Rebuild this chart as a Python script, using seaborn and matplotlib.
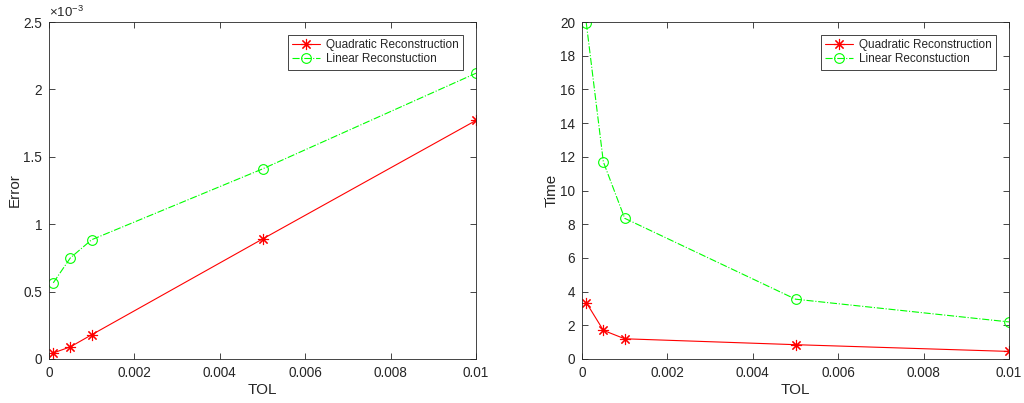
import matplotlib
matplotlib.use("Agg")
import matplotlib.pyplot as plt
import matplotlib.ticker as mticker
import seaborn as sns
import pandas as pd

# tolerance values on the x axis
tol = [0.0001, 0.0005, 0.001, 0.005, 0.01]

# reconstruction error
err_quadratic = [0.045e-3, 0.09e-3, 0.18e-3, 0.89e-3, 1.77e-3]
err_linear = [0.565e-3, 0.75e-3, 0.885e-3, 1.41e-3, 2.12e-3]

# run time
time_quadratic = [3.35, 1.7, 1.2, 0.85, 0.45]
time_linear = [19.95, 11.7, 8.35, 3.55, 2.2]

label_quadratic = "Quadratic Reconstruction"
label_linear = "Linear Reconstuction"

sns.set_theme(style="ticks")
plt.rcParams['font.family'] = ['Liberation Sans', 'DejaVu Sans']
plt.rcParams['mathtext.default'] = 'regular'
plt.rcParams['axes.edgecolor'] = '#262626'
plt.rcParams['axes.linewidth'] = 0.6
plt.rcParams['xtick.color'] = '#262626'
plt.rcParams['ytick.color'] = '#262626'
plt.rcParams['text.color'] = '#262626'
plt.rcParams['axes.labelcolor'] = '#262626'
plt.rcParams['xtick.labelsize'] = 9.8
plt.rcParams['ytick.labelsize'] = 9.8

RED = '#ff0000'
GREEN = '#00ff00'

fig = plt.figure(figsize=(10.24, 4.03), dpi=100)
ax1 = fig.add_axes([49 / 1024, 44 / 403, 427 / 1024, 337 / 403])
ax2 = fig.add_axes([582 / 1024, 44 / 403, 427 / 1024, 337 / 403])


def draw(ax, y_quad, y_lin, ylabel):
    df = pd.DataFrame({"tol": tol, "quad": y_quad, "lin": y_lin})
    sns.lineplot(data=df, x="tol", y="quad", ax=ax, color=RED, linewidth=0.8,
                 marker=(8, 2, 0), markersize=8, markerfacecolor=RED,
                 markeredgecolor=RED, markeredgewidth=0.8, label=label_quadratic)
    sns.lineplot(data=df, x="tol", y="lin", ax=ax, color=GREEN, linewidth=0.8,
                 linestyle='-.', marker='o', markersize=7, markerfacecolor='none',
                 markeredgecolor=GREEN, markeredgewidth=0.8, label=label_linear)
    ax.set_xlim(0, 0.01)
    ax.set_xticks([0, 0.002, 0.004, 0.006, 0.008, 0.01])
    ax.xaxis.set_major_formatter(mticker.FormatStrFormatter('%g'))
    ax.set_xlabel("TOL", fontsize=11, labelpad=2)
    ax.set_ylabel(ylabel, fontsize=11, labelpad=1)
    ax.tick_params(direction='in', top=True, right=True, length=4, width=0.6, pad=5)
    for s in ax.spines.values():
        s.set_visible(True)
    leg = ax.legend(loc='upper right', borderaxespad=1.1, fontsize=8.5,
                    fancybox=False, framealpha=1, edgecolor='#262626',
                    handlelength=2.4, borderpad=0.35, labelspacing=0.2,
                    handletextpad=0.5)
    leg.get_frame().set_linewidth(0.6)


draw(ax1, err_quadratic, err_linear, "Error")
ax1.set_ylim(0, 0.0025)
ax1.set_yticks([0, 0.0005, 0.001, 0.0015, 0.002, 0.0025])
ax1.yaxis.set_major_formatter(mticker.FuncFormatter(lambda v, p: '%g' % (v * 1e3)))
ax1.text(0.0, 1.005, r'$\times$10$^{-3}$', transform=ax1.transAxes, fontsize=9.5,
         ha='left', va='bottom')

draw(ax2, time_quadratic, time_linear, "Time")
ax2.set_ylim(0, 20)
ax2.set_yticks(range(0, 21, 2))

fig.savefig("out.png", dpi=100)
